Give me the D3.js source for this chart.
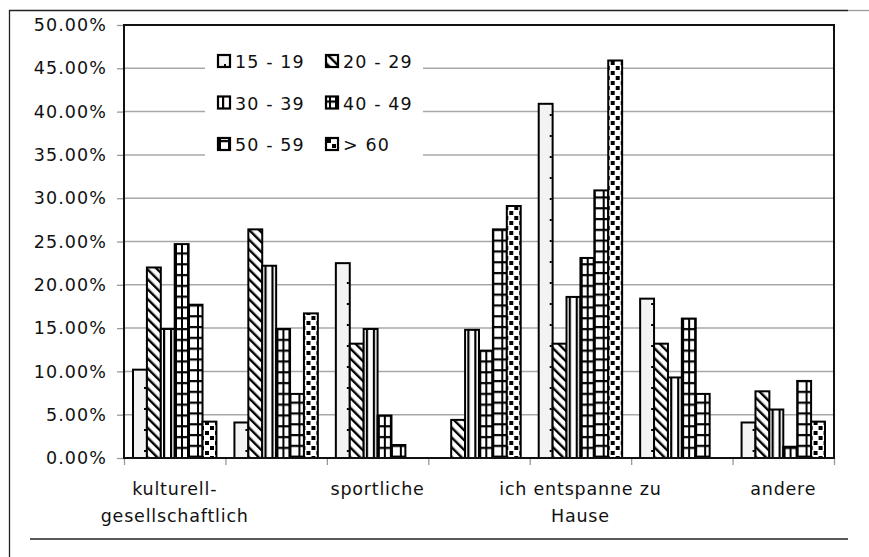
<!DOCTYPE html>
<html>
<head>
<meta charset="utf-8">
<script src="https://cdn.jsdelivr.net/npm/d3@7"></script>
<style>
    body { margin: 0; background: #fff; }
    text { font-family: "DejaVu Sans", Verdana, sans-serif; fill: #111; }
</style>
</head>
<body>
<div id="chart"></div>
<script>

var categoryLabels = [
    ["kulturell-", "gesellschaftlich"],
    [],
    ["sportliche"],
    [],
    ["ich entspanne zu", "Hause"],
    [],
    ["andere"]
];

var seriesNames = ["15 - 19", "20 - 29", "30 - 39", "40 - 49", "50 - 59", "> 60"];

var s1519 = [0.102, 0.041, 0.225, 0.000, 0.409, 0.184, 0.041];
var s2029 = [0.220, 0.264, 0.132, 0.044, 0.132, 0.132, 0.077];
var s3039 = [0.149, 0.222, 0.149, 0.148, 0.186, 0.093, 0.056];
var s4049 = [0.247, 0.149, 0.049, 0.124, 0.231, 0.161, 0.013];
var s5059 = [0.177, 0.074, 0.015, 0.264, 0.309, 0.074, 0.089];
var s60 = [0.042, 0.167, 0.000, 0.291, 0.459, 0.000, 0.042];

var yTicks = [0, 0.05, 0.10, 0.15, 0.20, 0.25, 0.30, 0.35, 0.40, 0.45, 0.50];

var seriesValues = [s1519, s2029, s3039, s4049, s5059, s60];

var svgWidth = 869;
var svgHeight = 557;

var plot = { left: 124, right: 834, top: 25, bottom: 458 };

var svg = d3.select("#chart")
    .append("svg")
    .attr("width", svgWidth)
    .attr("height", svgHeight);

var defs = svg.append("defs");

// fill patterns, one per age group
var p = defs.append("pattern").attr("id", "pat0")
    .attr("patternUnits", "userSpaceOnUse").attr("width", 14).attr("height", 21);
p.append("rect").attr("width", 14).attr("height", 21).attr("fill", "#f3f3f3");
p.append("rect").attr("x", 6).attr("y", 9).attr("width", 2).attr("height", 2).attr("fill", "#000");

p = defs.append("pattern").attr("id", "pat1")
    .attr("patternUnits", "userSpaceOnUse").attr("width", 7).attr("height", 7)
    .attr("patternTransform", "rotate(-45)");
p.append("rect").attr("width", 7).attr("height", 7).attr("fill", "#fff");
p.append("rect").attr("width", 2.4).attr("height", 7).attr("fill", "#000");

p = defs.append("pattern").attr("id", "pat2")
    .attr("patternUnits", "userSpaceOnUse").attr("width", 7).attr("height", 10);
p.append("rect").attr("width", 7).attr("height", 10).attr("fill", "#fff");
p.append("rect").attr("x", 4).attr("width", 2.2).attr("height", 10).attr("fill", "#000");

p = defs.append("pattern").attr("id", "pat3")
    .attr("patternUnits", "userSpaceOnUse").attr("width", 6).attr("height", 10.8);
p.append("rect").attr("width", 6).attr("height", 10.8).attr("fill", "#fff");
p.append("rect").attr("x", 3).attr("width", 2).attr("height", 10.8).attr("fill", "#000");
p.append("rect").attr("y", 4).attr("width", 6).attr("height", 2.2).attr("fill", "#000");

p = defs.append("pattern").attr("id", "pat4")
    .attr("patternUnits", "userSpaceOnUse").attr("width", 9).attr("height", 10.8);
p.append("rect").attr("width", 9).attr("height", 10.8).attr("fill", "#fff");
p.append("rect").attr("x", 1).attr("width", 2).attr("height", 10.8).attr("fill", "#000");
p.append("rect").attr("y", 2).attr("width", 9).attr("height", 2.2).attr("fill", "#000");

p = defs.append("pattern").attr("id", "pat5")
    .attr("patternUnits", "userSpaceOnUse").attr("width", 10).attr("height", 10);
p.append("rect").attr("width", 10).attr("height", 10).attr("fill", "#fff");
p.append("rect").attr("x", 1).attr("y", 1).attr("width", 4).attr("height", 4).attr("fill", "#000");
p.append("rect").attr("x", 6).attr("y", 6).attr("width", 4).attr("height", 4).attr("fill", "#000");

// outer frame
svg.append("line").attr("x1", 9).attr("x2", 848).attr("y1", 10.5).attr("y2", 10.5)
    .attr("stroke", "#222").attr("stroke-width", 1.3);
svg.append("line").attr("x1", 848).attr("x2", 869).attr("y1", 10.5).attr("y2", 10.5)
    .attr("stroke", "#999").attr("stroke-width", 1.3);
svg.append("line").attr("x1", 9.5).attr("x2", 9.5).attr("y1", 10).attr("y2", 557)
    .attr("stroke", "#222").attr("stroke-width", 1.3);
svg.append("line").attr("x1", 30).attr("x2", 848).attr("y1", 539).attr("y2", 539)
    .attr("stroke", "#222").attr("stroke-width", 1.3);

var x0 = d3.scaleBand()
    .domain(d3.range(categoryLabels.length))
    .range([plot.left, plot.right])
    .padding(0);

var x1 = d3.scaleBand()
    .domain(d3.range(seriesNames.length))
    .range([9, x0.bandwidth() - 9]);

var xTickScale = d3.scaleLinear()
    .domain([0, categoryLabels.length])
    .range([plot.left, plot.right]);

var yLinearScale = d3.scaleLinear()
    .domain([0, 0.5])
    .range([plot.bottom, plot.top]);

// gridlines
svg.append("g")
    .selectAll("line")
    .data(yTicks.slice(1))
    .enter().append("line")
    .attr("x1", plot.left)
    .attr("x2", plot.right)
    .attr("y1", d => yLinearScale(d))
    .attr("y2", d => yLinearScale(d))
    .attr("stroke", "#a8a8a8")
    .attr("stroke-width", 1.5);

var leftAxis = d3.axisLeft(yLinearScale)
    .tickValues(yTicks)
    .tickFormat(d3.format(".2%"))
    .tickSize(7)
    .tickPadding(10);

var yAxis = svg.append("g")
    .attr("transform", `translate(${plot.left}, 0)`)
    .call(leftAxis);

yAxis.select(".domain").attr("stroke", "#888");
yAxis.selectAll(".tick line").attr("stroke", "#999").attr("stroke-width", 1.3);
yAxis.selectAll(".tick text")
    .attr("font-size", "17.5px")
    .attr("letter-spacing", "1.1px")
    .attr("fill", "#111")
    .style("font-family", "'DejaVu Sans', Verdana, sans-serif");

var bottomAxis = d3.axisBottom(xTickScale)
    .tickValues(d3.range(categoryLabels.length + 1))
    .tickFormat("")
    .tickSize(7);

var xAxis = svg.append("g")
    .attr("transform", `translate(0, ${plot.bottom})`)
    .call(bottomAxis);

xAxis.select(".domain").attr("stroke", "#888");
xAxis.selectAll(".tick line").attr("stroke", "#999").attr("stroke-width", 1.3);

// bars
var groups = svg.append("g")
    .selectAll("g")
    .data(d3.range(categoryLabels.length))
    .enter().append("g")
    .attr("transform", d => `translate(${x0(d)}, 0)`);

groups.selectAll("rect")
    .data(c => seriesValues.map((vals, s) => ({ s: s, v: vals[c] })).filter(d => d.v > 0))
    .enter().append("rect")
    .attr("x", d => x1(d.s))
    .attr("y", d => yLinearScale(d.v))
    .attr("width", x1.bandwidth())
    .attr("height", d => plot.bottom - yLinearScale(d.v))
    .attr("fill", d => `url(#pat${d.s})`)
    .attr("stroke", "#000")
    .attr("stroke-width", 2);

// category labels
var labels = svg.append("g")
    .selectAll("text")
    .data(categoryLabels)
    .enter().append("text")
    .attr("text-anchor", "middle")
    .attr("font-size", "17.5px")
    .attr("letter-spacing", "0.8px")
    .attr("x", (d, i) => x0(i) + x0.bandwidth() / 2)
    .attr("y", 495);

labels.selectAll("tspan")
    .data(d => d)
    .enter().append("tspan")
    .attr("x", function() { return d3.select(this.parentNode).attr("x"); })
    .attr("dy", (d, i) => i === 0 ? 0 : 27)
    .text(d => d);

// legend
var legend = svg.append("g");

legend.append("rect")
    .attr("x", 205)
    .attr("y", 28)
    .attr("width", 218)
    .attr("height", 158)
    .attr("fill", "#fff");

var legendItems = legend.selectAll("g.item")
    .data(seriesNames)
    .enter().append("g")
    .attr("class", "item")
    .attr("transform", (d, i) => `translate(${i % 2 === 0 ? 218 : 326}, ${68 - 13 + Math.floor(i / 2) * 41.5})`);

legendItems.append("rect")
    .attr("width", 12)
    .attr("height", 12)
    .attr("fill", (d, i) => `url(#pat${i})`)
    .attr("stroke", "#000")
    .attr("stroke-width", 2.2);

legendItems.append("text")
    .attr("x", 17)
    .attr("y", 13)
    .attr("font-size", "17.5px")
    .attr("letter-spacing", "1.1px")
    .text(d => d);

// plot area border
svg.append("rect")
    .attr("x", plot.left)
    .attr("y", plot.top)
    .attr("width", plot.right - plot.left)
    .attr("height", plot.bottom - plot.top)
    .attr("fill", "none")
    .attr("stroke", "#111")
    .attr("stroke-width", 2);

</script>
</body>
</html>
